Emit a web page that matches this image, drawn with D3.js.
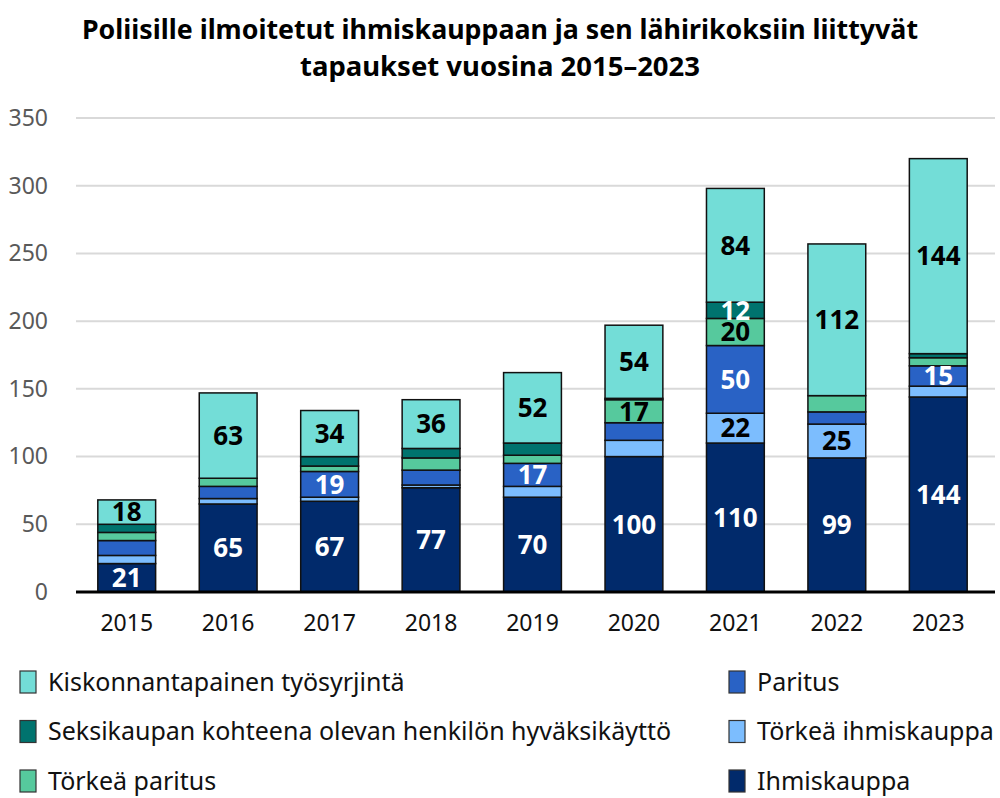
<!DOCTYPE html>
<html>
<head>
  <meta charset="utf-8">
  <title>Ihmiskauppa 2015–2023</title>
  <style>
    body { margin: 0; background: #fff; }
    text { font-family: "Noto Sans", "Open Sans", sans-serif; }
  </style>
</head>
<body>
  <svg id="svg"></svg>
  <script src="https://d3js.org/d3.v7.min.js"></script>
  <script>
    // data
    const years = ["2015", "2016", "2017", "2018", "2019", "2020", "2021", "2022", "2023"];
    const ihmiskauppa = [21, 65, 67, 77, 70, 100, 110, 99, 144];
    const torkeaIhmiskauppa = [6, 4, 3, 2, 8, 12, 22, 25, 8];
    const paritus = [11, 9, 19, 11, 17, 13, 50, 9, 15];
    const torkeaParitus = [6, 6, 4, 9, 6, 17, 20, 12, 6];
    const seksikaupan = [6, 0, 7, 7, 9, 1, 12, 0, 3];
    const kiskonnanta = [18, 63, 34, 36, 52, 54, 84, 112, 144];
    const yTicks = [0, 50, 100, 150, 200, 250, 300, 350];
    // which segments carry a value label in the original
    const labelled = [
      "2015|ihm", "2015|kis",
      "2016|ihm", "2016|kis",
      "2017|ihm", "2017|par", "2017|kis",
      "2018|ihm", "2018|kis",
      "2019|ihm", "2019|par", "2019|kis",
      "2020|ihm", "2020|tpar", "2020|kis",
      "2021|ihm", "2021|tihm", "2021|par", "2021|tpar", "2021|sek", "2021|kis",
      "2022|ihm", "2022|tihm", "2022|kis",
      "2023|ihm", "2023|par", "2023|kis"
    ];

    // stacking order, bottom first
    const series = [
      { key: "ihm", name: "Ihmiskauppa", values: ihmiskauppa, color: "#012a6b", text: "#fff" },
      { key: "tihm", name: "Törkeä ihmiskauppa", values: torkeaIhmiskauppa, color: "#7cbdfe", text: "#000" },
      { key: "par", name: "Paritus", values: paritus, color: "#2962c5", text: "#fff" },
      { key: "tpar", name: "Törkeä paritus", values: torkeaParitus, color: "#56c99d", text: "#000" },
      { key: "sek", name: "Seksikaupan kohteena olevan henkilön hyväksikäyttö", values: seksikaupan, color: "#00736e", text: "#fff" },
      { key: "kis", name: "Kiskonnantapainen työsyrjintä", values: kiskonnanta, color: "#73ddd7", text: "#000" }
    ];

    const W = 1000, H = 798;
    const margin = { top: 118, right: 11, bottom: 206, left: 76 };
    const width = W - margin.left - margin.right;
    const height = H - margin.top - margin.bottom;

    const svg = d3.select("#svg").attr("width", W).attr("height", H);

    // title
    svg.append("text")
      .attr("x", 500).attr("y", 0)
      .attr("text-anchor", "middle")
      .attr("font-weight", "bold")
      .attr("font-size", 26)
      .attr("fill", "#000")
      .selectAll("tspan")
      .data(["Poliisille ilmoitetut ihmiskauppaan ja sen lähirikoksiin liittyvät", "tapaukset vuosina 2015–2023"])
      .join("tspan")
      .attr("x", 500)
      .attr("y", (d, i) => 39 + i * 37)
      .attr("textLength", (d, i) => i === 0 ? 836 : 400)
      .attr("lengthAdjust", "spacingAndGlyphs")
      .text(d => d);

    const table = years.map((y, i) => {
      const row = { year: y };
      series.forEach(s => row[s.key] = s.values[i]);
      return row;
    });
    const stacked = d3.stack().keys(series.map(s => s.key))(table);

    const x = d3.scaleBand().domain(years).range([0, width]).paddingInner(0.43).paddingOuter(0.215);
    const y = d3.scaleLinear().domain([0, 350]).range([height, 0]);

    const g = svg.append("g").attr("transform", `translate(${margin.left},${margin.top})`);

    // grid
    g.append("g")
      .selectAll("line")
      .data(yTicks.filter(t => t > 0))
      .join("line")
      .attr("x1", 0).attr("x2", width + 6)
      .attr("y1", d => y(d)).attr("y2", d => y(d))
      .attr("stroke", "#d9d9d9").attr("stroke-width", 2);

    // y axis labels
    const yAxis = g.append("g")
      .call(d3.axisLeft(y).tickValues(yTicks).tickSize(0).tickPadding(28));
    yAxis.select(".domain").remove();
    yAxis.selectAll("text")
      .attr("font-size", 23)
      .attr("fill", "#595959")
      .style("font-family", "'Noto Sans', sans-serif");

    // bars
    const layers = g.append("g").selectAll("g")
      .data(stacked)
      .join("g")
      .attr("fill", (d, i) => series[i].color);

    layers.selectAll("rect")
      .data(d => d)
      .join("rect")
      .attr("x", d => x(d.data.year))
      .attr("width", x.bandwidth())
      .attr("y", d => y(d[1]))
      .attr("height", d => y(d[0]) - y(d[1]))
      .attr("stroke", "#111")
      .attr("stroke-width", 1.5)
      .attr("display", d => d[1] - d[0] > 0 ? null : "none");

    // value labels
    stacked.forEach((layer, i) => {
      const s = series[i];
      g.append("g").selectAll("text")
        .data(layer.filter(d => labelled.includes(d.data.year + "|" + s.key)))
        .join("text")
        .attr("x", d => x(d.data.year) + x.bandwidth() / 2)
        .attr("y", d => (y(d[0]) + y(d[1])) / 2)
        .attr("dy", "0.36em")
        .attr("text-anchor", "middle")
        .attr("font-weight", "bold")
        .attr("font-size", 26)
        .attr("fill", s.text)
        .text(d => d.data[s.key]);
    });

    // x axis
    const xAxis = g.append("g")
      .attr("transform", `translate(0,${height})`)
      .call(d3.axisBottom(x).tickSize(0).tickPadding(27));
    xAxis.select(".domain").attr("stroke", "#000").attr("stroke-width", 3)
      .attr("d", `M0,0H${width + 6}`);
    xAxis.selectAll("text")
      .attr("font-size", 23)
      .attr("dy", "0.5em")
      .attr("fill", "#111")
      .style("font-family", "'Noto Sans', sans-serif");

    // legend
    const legendOrder = [
      { s: series[5], col: 0, row: 0 },
      { s: series[4], col: 0, row: 1 },
      { s: series[3], col: 0, row: 2 },
      { s: series[2], col: 1, row: 0 },
      { s: series[1], col: 1, row: 1 },
      { s: series[0], col: 1, row: 2 }
    ];
    const legend = svg.append("g").selectAll("g")
      .data(legendOrder)
      .join("g")
      .attr("transform", d => `translate(${d.col === 0 ? 20 : 729},${682 + d.row * 49.5})`);
    legend.append("rect")
      .attr("x", 0).attr("y", -11)
      .attr("width", 16).attr("height", 22)
      .attr("fill", d => d.s.color)
      .attr("stroke", "#333").attr("stroke-width", 1.2);
    legend.append("text")
      .attr("x", 28).attr("y", 0)
      .attr("dy", "0.35em")
      .attr("font-size", 25)
      .attr("fill", "#111")
      .text(d => d.s.name);
  </script>
</body>
</html>
